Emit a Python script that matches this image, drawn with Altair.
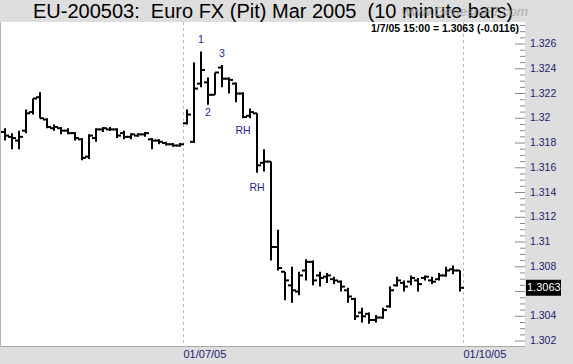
import altair as alt
import pandas as pd

TITLE = "EU-200503:\u00a0 Euro FX (Pit) Mar 2005\u00a0 (10 minute bars)"
WATERMARK = "www.GenesisFT.com"
HEADER = "1/7/05 15:00 = 1.3063 (-0.0116)"

# 10-minute OHLC bars: tail of the 1/6/05 session (26 bars) + 1/7/05 session (40 bars)
OPEN = [1.3189, 1.3185, 1.3182, 1.3190, 1.3205, 1.3217, 1.3199, 1.3192, 1.3192, 1.3190,
        1.3188, 1.3183, 1.3169, 1.3184, 1.3191, 1.3191, 1.3191, 1.3188, 1.3185, 1.3186,
        1.3187, 1.3183, 1.3182, 1.3180, 1.3179, 1.3178,
        1.3196, 1.3181, 1.3228, 1.3229, 1.3219, 1.3241, 1.3232, 1.3228, 1.3220, 1.3202,
        1.3204, 1.3164, 1.3165, 1.3096, 1.3076, 1.3065, 1.3060, 1.3077, 1.3084, 1.3073,
        1.3072, 1.3070, 1.3068, 1.3061, 1.3054, 1.3043, 1.3042, 1.3037, 1.3039, 1.3048,
        1.3065, 1.3067, 1.3068, 1.3069, 1.3071, 1.3069, 1.3070, 1.3073, 1.3078, 1.3077]
HIGH = [1.3192, 1.3188, 1.3190, 1.3207, 1.3216, 1.3221, 1.3200, 1.3195, 1.3193, 1.3192,
        1.3189, 1.3184, 1.3187, 1.3192, 1.3193, 1.3193, 1.3192, 1.3190, 1.3188, 1.3188,
        1.3189, 1.3184, 1.3183, 1.3181, 1.3180, 1.3180,
        1.3207, 1.3245, 1.3254, 1.3233, 1.3237, 1.3243, 1.3233, 1.3229, 1.3221, 1.3208,
        1.3204, 1.3175, 1.3165, 1.3110, 1.3076, 1.3080, 1.3076, 1.3086, 1.3085, 1.3076,
        1.3075, 1.3072, 1.3069, 1.3063, 1.3055, 1.3047, 1.3043, 1.3041, 1.3047, 1.3064,
        1.3072, 1.3069, 1.3073, 1.3071, 1.3073, 1.3072, 1.3075, 1.3080, 1.3081, 1.3077]
LOW = [1.3182, 1.3175, 1.3175, 1.3188, 1.3203, 1.3200, 1.3192, 1.3190, 1.3187, 1.3187,
       1.3182, 1.3166, 1.3167, 1.3181, 1.3189, 1.3190, 1.3184, 1.3183, 1.3183, 1.3185,
       1.3185, 1.3175, 1.3179, 1.3178, 1.3177, 1.3177,
       1.3195, 1.3180, 1.3225, 1.3211, 1.3219, 1.3225, 1.3220, 1.3213, 1.3200, 1.3200,
       1.3156, 1.3157, 1.3085, 1.3077, 1.3053, 1.3051, 1.3057, 1.3069, 1.3065, 1.3064,
       1.3067, 1.3066, 1.3060, 1.3051, 1.3037, 1.3035, 1.3034, 1.3035, 1.3038, 1.3047,
       1.3064, 1.3060, 1.3065, 1.3060, 1.3069, 1.3066, 1.3069, 1.3072, 1.3074, 1.3060]
CLOSE = [1.3186, 1.3184, 1.3185, 1.3204, 1.3216, 1.3200, 1.3193, 1.3193, 1.3190, 1.3188,
         1.3184, 1.3168, 1.3186, 1.3191, 1.3192, 1.3191, 1.3186, 1.3185, 1.3187, 1.3187,
         1.3188, 1.3182, 1.3181, 1.3179, 1.3178, 1.3179,
         1.3203, 1.3224, 1.3239, 1.3219, 1.3237, 1.3232, 1.3231, 1.3220, 1.3201, 1.3205,
         1.3162, 1.3165, 1.3096, 1.3079, 1.3069, 1.3061, 1.3073, 1.3084, 1.3069, 1.3071,
         1.3073, 1.3069, 1.3064, 1.3056, 1.3040, 1.3040, 1.3037, 1.3039, 1.3045, 1.3061,
         1.3069, 1.3064, 1.3071, 1.3066, 1.3072, 1.3068, 1.3073, 1.3077, 1.3077, 1.3063]

DATE_LABELS = ["01/07/05", "01/10/05"]
DATE_BREAKS = [25.5, 65.5]

Y_LABELS = [1.302, 1.304, 1.308, 1.31, 1.312, 1.314, 1.316, 1.318, 1.32, 1.322, 1.324, 1.326]
Y_MAJOR = [1.302, 1.304, 1.306, 1.308, 1.31, 1.312, 1.314, 1.316, 1.318, 1.32, 1.322, 1.324, 1.326]
Y_MINOR = [round(1.302 + 0.0005 * i, 4) for i in range(52)]

WAVE_TEXT = ["1", "2", "3", "RH", "RH"]
WAVE_IDX = [28, 29, 31, 34, 36]
WAVE_PRICE = [1.3263, 1.3204, 1.3252, 1.3190, 1.3144]

LAST_PRICE = 1.3063

NAVY = "#1c1c6e"
BLUE = "#2323a8"
FONT = "Liberation Sans"

df = pd.DataFrame({"idx": list(range(len(OPEN))), "open": OPEN, "high": HIGH,
                   "low": LOW, "close": CLOSE})
waves = pd.DataFrame({"idx": WAVE_IDX, "price": WAVE_PRICE, "label": WAVE_TEXT})
major = pd.DataFrame({"v": Y_MAJOR})
minor = pd.DataFrame({"v": [v for v in Y_MINOR if all(abs(v - m) > 1e-6 for m in Y_MAJOR)]})
ylab = pd.DataFrame({"lv": Y_LABELS, "lt": [f"{v:g}" for v in Y_LABELS]})
dates = pd.DataFrame({"b": DATE_BREAKS, "d": DATE_LABELS})
last = pd.DataFrame({"price": [LAST_PRICE], "t": [f"{LAST_PRICE:.4f}"]})
header = pd.DataFrame({"t": [HEADER]})
wm = pd.DataFrame({"t": [WATERMARK]})
ttl = pd.DataFrame({"t": [TITLE]})
frame = pd.DataFrame({"k": [0]})

xs = alt.Scale(domain=[-4 / 7, -4 / 7 + 524 / 7], nice=False, zero=False)
ys = alt.Scale(domain=[1.3016, 1.32778], nice=False, zero=False)


def X(field):
    return alt.X(field, scale=xs, axis=None)


def Y(field):
    return alt.Y(field, scale=ys, axis=None)


grid = alt.Chart(dates).mark_rule(color="#bcbcbc", strokeDash=[3, 3], strokeWidth=1).encode(
    x=X("b:Q"), y=alt.value(0), y2=alt.value(324))
date_txt = alt.Chart(dates).mark_text(color=NAVY, font=FONT, fontSize=11, align="left",
                                      baseline="top").encode(
    x=X("b:Q"), y=alt.value(327), text="d:N")
bottom = alt.Chart(frame).mark_rule(color="#a8a8a8", strokeWidth=1).encode(
    x=alt.value(0), x2=alt.value(524), y=alt.value(324.5))
left = alt.Chart(frame).mark_rule(color="#b4b4b4", strokeWidth=1).encode(
    x=alt.value(-0.5), y=alt.value(0), y2=alt.value(325))

base = alt.Chart(df)
hl = base.mark_rule(color="black", strokeWidth=2).encode(
    x=X("idx:Q"), y=Y("low:Q"), y2="high:Q")
op = base.mark_rule(color="black", strokeWidth=2, xOffset=-4, x2Offset=0).encode(
    x=X("idx:Q"), x2="idx:Q", y=Y("open:Q"))
cl = base.mark_rule(color="black", strokeWidth=2, xOffset=0, x2Offset=4).encode(
    x=X("idx:Q"), x2="idx:Q", y=Y("close:Q"))

wave_txt = alt.Chart(waves).mark_text(color=BLUE, font=FONT, fontSize=10.5,
                                      baseline="middle", align="center").encode(
    x=X("idx:Q"), y=Y("price:Q"), text="label:N")

maj = alt.Chart(major).mark_rule(color="#8a8a8a", strokeWidth=1).encode(
    x=alt.value(514), x2=alt.value(524), y=Y("v:Q"))
mnr = alt.Chart(minor).mark_rule(color="#8a8a8a", strokeWidth=1).encode(
    x=alt.value(519), x2=alt.value(524), y=Y("v:Q"))
ylabels = alt.Chart(ylab).mark_text(color=NAVY, font=FONT, fontSize=10.5,
                                    align="left", baseline="middle").encode(
    x=alt.value(529), y=Y("lv:Q"), text="lt:N")
pad_a = alt.Chart(ylab).mark_text(opacity=0, fontSize=10.5, align="left",
                                  baseline="middle").encode(
    x=alt.value(470), y=Y("lv:Q"), text=alt.value(" "))
pad_b = alt.Chart(frame).mark_text(opacity=0, fontSize=10.5, align="left",
                                   baseline="middle").encode(
    x=alt.value(560), y=alt.value(319), text=alt.value(" "))

box = alt.Chart(last).mark_rect(color="black", yOffset=-8, y2Offset=8).encode(
    x=alt.value(525), x2=alt.value(560), y=Y("price:Q"), y2="price:Q")
box_txt = alt.Chart(last).mark_text(color="white", font=FONT, fontSize=11,
                                    align="left", baseline="middle").encode(
    x=alt.value(526), y=Y("price:Q"), text="t:N")

title_txt = alt.Chart(ttl).mark_text(font=FONT, fontSize=20, align="left",
                                     baseline="alphabetic", color="black").encode(
    x=alt.value(32), y=alt.value(-4), text="t:N")
hdr = alt.Chart(header).mark_text(font=FONT, fontSize=10.5, fontWeight="bold",
                                  align="right", baseline="middle", color="black").encode(
    x=alt.value(518), y=alt.value(7), text="t:N")
wmk = alt.Chart(wm).mark_text(font=FONT, fontSize=13.5, fontStyle="italic",
                              align="right", baseline="middle", color="#9a9a9a",
                              opacity=0.75).encode(
    x=alt.value(527), y=alt.value(-10), text="t:N")

chart = alt.layer(grid, bottom, left, date_txt, maj, mnr, hl, op, cl, wave_txt, box,
                  box_txt, title_txt, hdr, wmk, ylabels, pad_a, pad_b).properties(
    width=524, height=324,
    autosize=alt.AutoSizeParams(type="none"),
    padding={"left": 1, "top": 22, "right": 48, "bottom": 18},
    background="#dedede",
).configure_view(fill="white", stroke=None)

chart.save("out.html", embed_options={"renderer": "svg", "actions": False})
